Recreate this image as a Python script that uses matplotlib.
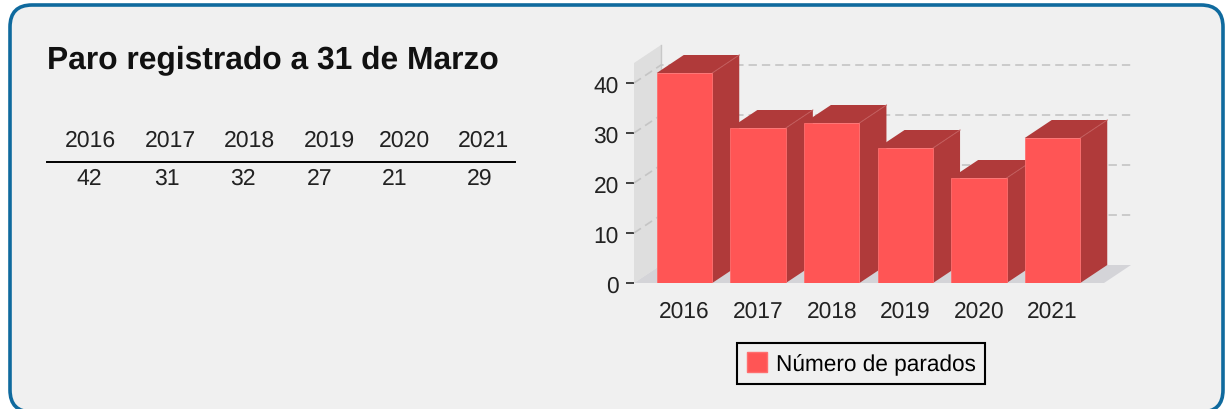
import matplotlib
matplotlib.use("Agg")
import matplotlib.pyplot as plt
from matplotlib.patches import FancyBboxPatch, Polygon, Patch

plt.rcParams['font.family'] = ['Liberation Sans', 'DejaVu Sans']
plt.rcParams['text.hinting'] = 'no_hinting'

years = ['2016', '2017', '2018', '2019', '2020', '2021']
parados = [42, 31, 32, 27, 21, 29]
y_ticks = [0, 10, 20, 30, 40]

# posiciones de la tabla en pixeles
year_x = [90, 170, 249, 329, 404, 483]
value_x = [89, 166, 242, 319, 394, 479]

W, H = 1225, 410
fig = plt.figure(figsize=(W / 100, H / 100), dpi=100, facecolor='white')

# fondo, titulo y tabla
bg = fig.add_axes([0, 0, 1, 1])
bg.set_xlim(0, W)
bg.set_ylim(H, 0)
bg.axis('off')
bg.add_patch(FancyBboxPatch((10, 6), 1213, 407, boxstyle='round,pad=0,rounding_size=22',
                            facecolor='#f0f0f0', edgecolor='#0f6a9e', linewidth=2.6))
bg.text(47, 60, 'Paro registrado a 31 de Marzo', fontsize=22.85, fontweight='bold',
        color='#111111', va='center', ha='left')
for x, year in zip(year_x, years):
    bg.text(x, 141, year, fontsize=16.6, color='#222222', ha='center', va='center')
for x, val in zip(value_x, parados):
    bg.text(x + 0.5, 179, str(val), fontsize=16.6, color='#222222', ha='center', va='center')
bg.plot([47, 515], [162.5, 162.5], color='black', linewidth=1.4)

# grafico de barras con falso 3D
left, right, bottom, top = 634, 1104, 284, 64
ax = fig.add_axes([left / W, 1 - bottom / H, (right - left) / W, (bottom - top) / H])
ax.patch.set_visible(False)
pitch = 73.6
ax.set_xlim((left - 684.5) / pitch, (right - 684.5) / pitch)
ax.set_ylim(0, (bottom - top) / 5)
x0, x1 = ax.get_xlim()
y1 = ax.get_ylim()[1]
dx = 27 / pitch  # profundidad
dy = 18 / 5
w = 55.5 / pitch

ax.add_patch(Polygon([(x0, 0), (x0 + dx, dy), (x0 + dx, y1 + dy), (x0, y1)],
                     facecolor='#dedede', edgecolor='none', clip_on=False, zorder=1))
ax.add_patch(Polygon([(x0, 0), (x1, 0), (x1 + dx, dy), (x0 + dx, dy)],
                     facecolor='#d4d4d8', edgecolor='none', clip_on=False, zorder=1))
ax.plot([x0 + dx, x0 + dx], [dy, y1 + dy], color='#c8c8c8', linewidth=1, clip_on=False, zorder=1.5)

for t in y_ticks[1:]:
    ax.plot([x0, x0 + dx, x1 + dx], [t, t + dy, t + dy], color='#c4c4c4', linewidth=1.2,
            linestyle=(0, (5, 3)), clip_on=False, zorder=2)

for i, val in enumerate(parados):
    z = 3 + i
    l, r = i - w / 2, i + w / 2
    ax.add_patch(Polygon([(r, 0), (r + dx, dy), (r + dx, val + dy), (r, val)],
                         facecolor='#b03a3a', edgecolor='none', clip_on=False, zorder=z))
    ax.add_patch(Polygon([(l, val), (l + dx, val + dy), (r + dx, val + dy), (r, val)],
                         facecolor='#b03a3a', edgecolor='none', clip_on=False, zorder=z))
    ax.plot([r, r + dx], [val, val + dy], color='#c25a5a', linewidth=0.7, clip_on=False, zorder=z)
    ax.bar(i, val, width=w, color='#ff5555', edgecolor='#ff6f6f', linewidth=0.6, zorder=z)

for s in ax.spines.values():
    s.set_visible(False)
ax.set_xticks(range(len(years)), years)
ax.set_yticks(y_ticks)
ax.tick_params(axis='x', length=0, labelsize=16.4, pad=12, labelcolor='#222222')
ax.tick_params(axis='y', length=6, width=1.2, labelsize=16.4, pad=5, labelcolor='#222222', color='#222222')

leg = ax.legend(handles=[Patch(facecolor='#ff5555', edgecolor='#ff6f6f', label='Número de parados')],
                loc='center', bbox_to_anchor=(861 / W, 1 - 364.5 / H), bbox_transform=fig.transFigure,
                fontsize=16.3, fancybox=False, framealpha=1, facecolor='#f0f0f0', edgecolor='black',
                handlelength=0.92, handleheight=1.0, handletextpad=0.36, borderpad=0.42)
leg.get_frame().set_linewidth(1.5)

fig.savefig('out.png', dpi=100)
